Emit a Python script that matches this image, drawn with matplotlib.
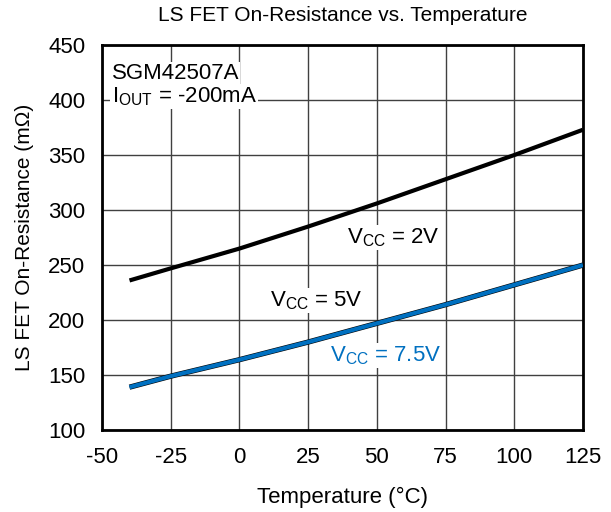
import matplotlib.pyplot as plt

plt.rcParams['font.family'] = ['Liberation Sans', 'DejaVu Sans']
plt.rcParams['axes.unicode_minus'] = False

temp = [-40, -25, 0, 25, 50, 75, 100, 125]
r_2v = [236, 247, 265, 285, 306, 328, 350, 373]
r_5v = [139, 149, 164, 180, 197, 214, 232, 250]
r_7v5 = [139, 149, 164, 180, 197, 214, 232, 250]

x_ticks = [-50, -25, 0, 25, 50, 75, 100, 125]
y_ticks = [100, 150, 200, 250, 300, 350, 400, 450]

blue = '#0070C0'

fig = plt.figure(figsize=(6.11, 5.12), dpi=100)
ax = fig.add_axes([0.167, 0.160, 0.787, 0.752])

ax.plot(temp, r_2v, color='black', lw=3, solid_capstyle='butt', zorder=3)
ax.plot(temp, r_5v, color='black', lw=3.8, solid_capstyle='butt', zorder=3)
ax.plot(temp, r_7v5, color=blue, lw=3, solid_capstyle='butt', zorder=4)

ax.set_xlim(-50, 125)
ax.set_ylim(100, 450)
ax.set_xticks(x_ticks)
ax.set_yticks(y_ticks)
ax.grid(True, color='#404040', lw=1)
ax.set_axisbelow(True)
ax.tick_params(axis='x', length=0, labelsize=16, pad=12)
ax.tick_params(axis='y', length=0, labelsize=16, pad=12)
for s in ax.spines.values():
    s.set_linewidth(2)

box = dict(facecolor='white', edgecolor='none', pad=1)
ax.text(-46.5, 424, 'SGM42507A', fontsize=16, va='center', ha='left', bbox=box, zorder=5)
ax.text(-46.5, 403, r'I$_{\mathregular{OUT}}$ = -200mA', fontsize=16, va='center', ha='left', bbox=box, zorder=5)
ax.text(39, 275, r'V$_{\mathregular{CC}}$ = 2V', fontsize=16, va='center', ha='left', bbox=box, zorder=5)
ax.text(11, 218, r'V$_{\mathregular{CC}}$ = 5V', fontsize=16, va='center', ha='left', bbox=box, zorder=5)
ax.text(33, 168, r'V$_{\mathregular{CC}}$ = 7.5V', fontsize=16, va='center', ha='left', color=blue, bbox=box, zorder=5)

ax.set_title('LS FET On-Resistance vs. Temperature', fontsize=15, pad=17)
ax.set_xlabel('Temperature (°C)', fontsize=16, labelpad=14)
ax.set_ylabel('LS FET On-Resistance (mΩ)', fontsize=15, labelpad=10)

fig.savefig('out.png', dpi=100)
